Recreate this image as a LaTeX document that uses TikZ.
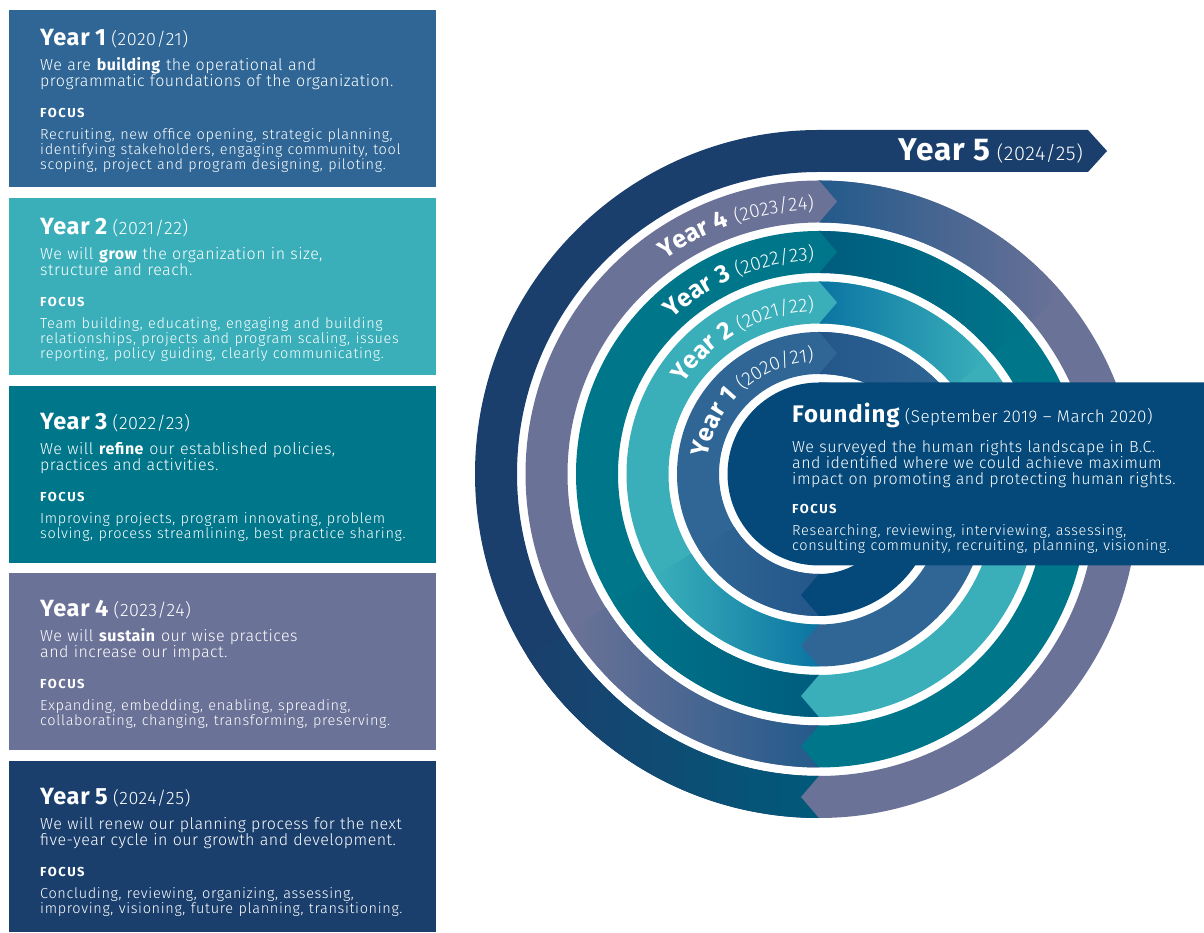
\documentclass[tikz,border=0pt]{standalone}
\usepackage{fontspec}
\setmainfont{Fira Sans Light}[BoldFont={Fira Sans Bold},LetterSpace=3]
\usetikzlibrary{decorations.text}

\definecolor{yrOne}{HTML}{2F6695}
\definecolor{yrTwo}{HTML}{3AAFBA}
\definecolor{yrThree}{HTML}{00768A}
\definecolor{yrFour}{HTML}{6B7297}
\definecolor{yrFive}{HTML}{1B3F6D}
\definecolor{found}{HTML}{05497A}
\definecolor{dkOne}{HTML}{24568A}
\definecolor{dkTwo}{HTML}{0B74A2}
\definecolor{dkThree}{HTML}{005C7E}
\definecolor{dkFour}{HTML}{235A8B}
\definecolor{dkFive}{HTML}{005A7A}

\newcommand\yrhead{\fontsize{23.5}{23.5}\selectfont\bfseries}
\newcommand\yrdate{\fontsize{18}{18}\selectfont}
\newcommand\focushead{\fontsize{13}{13}\selectfont\bfseries\addfontfeatures{LetterSpace=12}}
\newcommand\focuslist{\fontsize{14.5}{16}\selectfont\addfontfeatures{LetterSpace=4.5}}
\newcommand\arcyear{\color{white}\fontsize{25}{25}\selectfont\bfseries}
\newcommand\arcdate{\color{white}\fontsize{19}{19}\selectfont}

\tikzset{
  panel/.style={fill=#1,anchor=north west,minimum width=427pt,minimum height=177pt,inner sep=0pt,outer sep=0pt},
  paneltext/.style={anchor=north west,inner sep=0pt,text width=400pt,align=left,text=white,font=\fontsize{16}{16}\selectfont},
}

\begin{document}
\begin{tikzpicture}[x=1pt,y=1pt]
\useasboundingbox (0,0) rectangle (1204,933);
% left half-bands of the spiral
\foreach \k/\col/\dk in {1/yrOne/dkOne,2/yrTwo/dkTwo,3/yrThree/dkThree,4/yrFour/dkFour,5/yrFive/dkFive} {
  \pgfmathsetmacro\ro{91.5+50.5*\k}
  \pgfmathsetmacro\ri{\ro-42}
  \fill[\col,shift={(819,459)}] (90:\ro) arc[start angle=90,end angle=270,radius=\ro] -- (270:\ri) arc[start angle=270,end angle=90,radius=\ri] -- cycle;
  \shade[shift={(819,459)},left color=\col,right color=\dk] (270:\ro) arc[start angle=270,end angle=212,radius=\ro] -- (212:\ri) arc[start angle=212,end angle=270,radius=\ri] -- cycle;
}
% right half-bands, lower centre, chevron at the bottom
\foreach \k/\col in {0/found,1/yrOne,2/yrTwo,3/yrThree,4/yrFour} {
  \pgfmathsetmacro\ro{91.5+50.5*\k+25.25}
  \pgfmathsetmacro\ri{\ro-42}
  \fill[\col,shift={(819,433.75)}] (90:\ro) arc[start angle=90,end angle=-90,radius=\ro] -- ++(-18,21) -- (-90:\ri) arc[start angle=-90,end angle=90,radius=\ri] -- cycle;
}
\foreach \k/\col/\dk in {1/yrOne/dkOne,2/yrTwo/dkTwo,3/yrThree/dkThree,4/yrFour/dkFour} {
  \pgfmathsetmacro\ro{91.5+50.5*\k+25.25}
  \pgfmathsetmacro\ri{\ro-42}
  \shade[shift={(819,433.75)},left color=\dk,right color=\col] (90:\ro) arc[start angle=90,end angle=40,radius=\ro] -- (40:\ri) arc[start angle=40,end angle=90,radius=\ri] -- cycle;
}
% chevrons at the top
\foreach \k/\col in {1/yrOne,2/yrTwo,3/yrThree,4/yrFour} {
  \pgfmathsetmacro\ro{91.5+50.5*\k}
  \fill[\col] (819,{459+\ro}) -- ++(18,-21) -- ++(-18,-21) -- cycle;
}
\fill[yrFive] (819,803) -- (1088,803) -- (1107,782) -- (1088,761) -- (819,761) -- cycle;
% founding disc and box
\fill[found] (819,550.5) arc[start angle=90,end angle=270,radius=91.5] -- (1204,367.5) -- (1204,550.5) -- cycle;

% year labels on the arcs
\path[shift={(819,459)},decorate,decoration={text along path,text align=right,text={|\arcyear|Year 1 |\arcdate|(2020/21)}}] (220:112.5) arc[start angle=220,end angle=92.5,radius=112.5];
\path[shift={(819,459)},decorate,decoration={text along path,text align=right,text={|\arcyear|Year 2 |\arcdate|(2021/22)}}] (205:163) arc[start angle=205,end angle=91.7,radius=163];
\path[shift={(819,459)},decorate,decoration={text along path,text align=right,text={|\arcyear|Year 3 |\arcdate|(2022/23)}}] (200:213.5) arc[start angle=200,end angle=91.3,radius=213.5];
\path[shift={(819,459)},decorate,decoration={text along path,text align=right,text={|\arcyear|Year 4 |\arcdate|(2023/24)}}] (200:264) arc[start angle=200,end angle=91.1,radius=264];
\node[anchor=base east,inner sep=0pt,text=white,font=\fontsize{20}{20}\selectfont] (arrow5) at (1083,772) {{\fontsize{31.5}{31.5}\selectfont\bfseries Year 5} (2024/25)};

\node[paneltext] (found) at (792,530) {{\fontsize{24}{24}\selectfont\bfseries\addfontfeatures{LetterSpace=4} Founding} {\fontsize{17}{17}\selectfont(September 2019 – March 2020)}\\[11pt]
We surveyed the human rights landscape in B.C.\\
and identified where we could achieve maximum\\
impact on promoting and protecting human rights.\\[13pt]
{\focushead FOCUS}\\[6pt]
\focuslist Researching, reviewing, interviewing, assessing,\\[-1pt]
consulting community, recruiting, planning, visioning.};

% left panels
\node[panel=yrOne] (p1) at (9,923) {};
\node[panel=yrTwo] (p2) at (9,735) {};
\node[panel=yrThree] (p3) at (9,547) {};
\node[panel=yrFour] (p4) at (9,360) {};
\node[panel=yrFive,minimum height=171pt] (p5) at (9,172) {};

\node[paneltext] (t1) at ([shift={(31,-19)}]p1.north west) {{\yrhead Year 1} {\yrdate(2020/21)}\\[9pt]
We are \textbf{building} the operational and\\
programmatic foundations of the organization.\\[15pt]
{\focushead FOCUS}\\[6pt]
\focuslist Recruiting, new office opening, strategic planning,\\[-1pt]
identifying stakeholders, engaging community, tool\\[-1pt]
scoping, project and program designing, piloting.};
\node[paneltext] (t2) at ([shift={(31,-20)}]p2.north west) {{\yrhead Year 2} {\yrdate(2021/22)}\\[9pt]
We will \textbf{grow} the organization in size,\\
structure and reach.\\[15pt]
{\focushead FOCUS}\\[6pt]
\focuslist Team building, educating, engaging and building\\[-1pt]
relationships, projects and program scaling, issues\\[-1pt]
reporting, policy guiding, clearly communicating.};
\node[paneltext] (t3) at ([shift={(31,-27)}]p3.north west) {{\yrhead Year 3} {\yrdate(2022/23)}\\[9pt]
We will \textbf{refine} our established policies,\\
practices and activities.\\[15pt]
{\focushead FOCUS}\\[6pt]
\focuslist Improving projects, program innovating, problem\\[-1pt]
solving, process streamlining, best practice sharing.};
\node[paneltext] (t4) at ([shift={(31,-27)}]p4.north west) {{\yrhead Year 4} {\yrdate(2023/24)}\\[9pt]
We will \textbf{sustain} our wise practices\\
and increase our impact.\\[15pt]
{\focushead FOCUS}\\[6pt]
\focuslist Expanding, embedding, enabling, spreading,\\[-1pt]
collaborating, changing, transforming, preserving.};
\node[paneltext] (t5) at ([shift={(31,-27)}]p5.north west) {{\yrhead Year 5} {\yrdate(2024/25)}\\[9pt]
We will renew our planning process for the next\\
five-year cycle in our growth and development.\\[15pt]
{\focushead FOCUS}\\[6pt]
\focuslist Concluding, reviewing, organizing, assessing,\\[-1pt]
improving, visioning, future planning, transitioning.};
\end{tikzpicture}
\end{document}
